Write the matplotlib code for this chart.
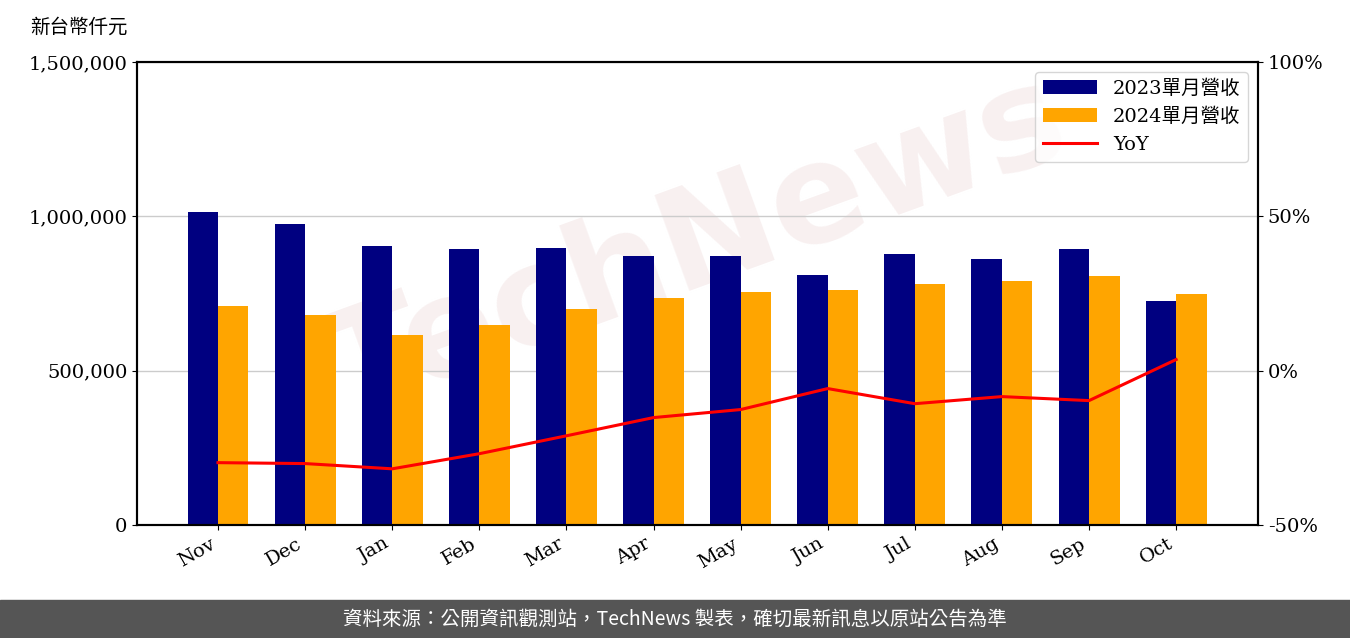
import matplotlib
matplotlib.use('Agg')
import matplotlib.pyplot as plt
import numpy as np

plt.rcParams['font.family'] = ['DejaVu Serif', 'Noto Sans CJK TC']

months = ['Nov', 'Dec', 'Jan', 'Feb', 'Mar', 'Apr', 'May', 'Jun', 'Jul', 'Aug', 'Sep', 'Oct']
rev_2023 = [1014000, 975000, 904000, 894000, 897000, 871000, 871000, 810000, 878000, 862000, 894000, 726000]
rev_2024 = [709000, 680000, 615000, 648000, 700000, 735000, 755000, 761000, 781000, 790000, 807000, 748000]
yoy = [-29.8, -30.1, -31.8, -26.9, -21.1, -15.2, -12.6, -5.8, -10.7, -8.4, -9.7, 3.6]

fig = plt.figure(figsize=(13.5, 6.38), dpi=100)
ax = fig.add_axes([137/1350, 1-525/638, (1258-137)/1350, 463/638])

# watermark, behind the bars
ax.text(0.5, 0.6, 'TechNews', fontsize=100, color='#f0dede', alpha=0.45,
        rotation=20, ha='center', va='center', fontweight='bold', zorder=0,
        family='DejaVu Sans', transform=ax.transAxes)

ax2 = ax.twinx()

x = np.arange(len(months))
w = 0.35
b1 = ax.bar(x - w/2, rev_2023, w, color='#000080', label='2023單月營收', zorder=2)
b2 = ax.bar(x + w/2, rev_2024, w, color='#FFA500', label='2024單月營收', zorder=2)
l1, = ax2.plot(x, yoy, color='red', lw=2.2, label='YoY')

ax.set_ylim(0, 1500000)
ax.set_yticks([0, 500000, 1000000, 1500000])
ax.set_yticklabels(['0', '500,000', '1,000,000', '1,500,000'], fontsize=14)
ax.yaxis.grid(True, color='#cccccc', lw=1, zorder=1)
ax.set_xlim(-0.93, 11.94)
ax.set_xticks(x)
ax.set_xticklabels(months, rotation=30, ha='right', fontsize=14)

ax2.set_ylim(-50, 100)
ax2.set_yticks([-50, 0, 50, 100])
ax2.set_yticklabels(['-50%', '0%', '50%', '100%'], fontsize=14)

for a in (ax, ax2):
    for s in a.spines.values():
        s.set_linewidth(1.5)

ax2.legend([b1, b2, l1], ['2023單月營收', '2024單月營收', 'YoY'], loc='upper right',
           fontsize=14, handlelength=2.8)

fig.text(30/1350, 1-27/638, '新台幣仟元', fontsize=14, va='center')

fig.patches.append(plt.Rectangle((0, 0), 1, 38/638, transform=fig.transFigure,
                                 color='#555555', zorder=5))
fig.text(0.5, 19/638, '資料來源：公開資訊觀測站，TechNews 製表，確切最新訊息以原站公告為準',
         color='white', fontsize=14, ha='center', va='center', zorder=6,
         family=['Noto Sans CJK TC', 'DejaVu Sans'])

fig.savefig('out.png', dpi=100)
